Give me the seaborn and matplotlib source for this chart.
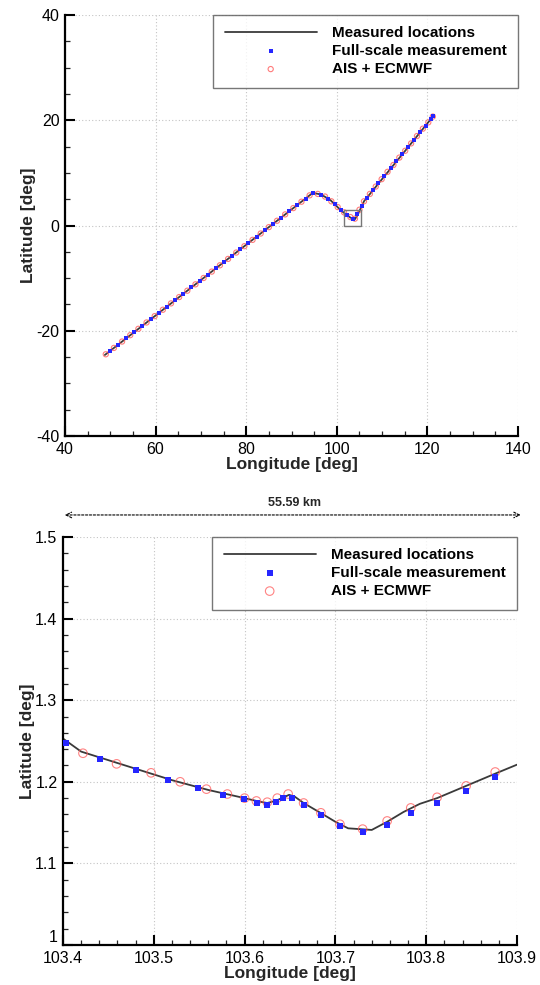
import matplotlib
matplotlib.use("Agg")
import matplotlib.pyplot as plt
from matplotlib.ticker import MultipleLocator, AutoMinorLocator, FormatStrFormatter
from matplotlib.patches import Rectangle
import seaborn as sns
import pandas as pd

# ---------------- data: overview route ----------------
route_lon = [48.8, 60.0, 75.0, 88.0, 94.7, 96.5, 98.5, 101.0, 103.0, 104.0, 104.6, 106.0, 109.5, 115.1, 121.3]
route_lat = [-24.6, -17.1, -7.0, 1.7, 6.2, 5.9, 4.9, 2.8, 1.5, 1.2, 2.0, 4.6, 8.3, 14.2, 20.8]

ais_lon = [49.0, 50.8, 52.6, 54.4, 56.2, 58.0, 59.8, 61.6, 63.4, 65.2, 67.0, 68.8, 70.6, 72.4,
           74.2, 76.0, 77.8, 79.6, 81.4, 83.2, 85.0, 86.8, 88.6, 90.4, 92.2, 94.0,
           95.8, 97.4, 98.8, 100.2, 101.6, 103.0, 104.0,
           105.0, 106.0, 107.3, 108.6, 109.9, 111.2, 112.5, 113.8, 115.1, 116.4, 117.7, 119.0, 120.2, 121.2]
ais_lat = [-24.47, -23.26, -22.05, -20.84, -19.63, -18.43, -17.22, -16.01, -14.80, -13.60, -12.39, -11.18, -9.97, -8.76,
           -7.56, -6.35, -5.14, -3.93, -2.73, -1.52, -0.31, 0.90, 2.11, 3.31, 4.52, 5.73,
           6.0, 5.5, 4.6, 3.5, 2.5, 1.6, 1.3,
           3.0, 4.6, 6.0, 7.4, 8.8, 10.2, 11.5, 12.9, 14.2, 15.6, 17.0, 18.4, 19.6, 20.7]

fs_lon = [49.9, 51.7, 53.5, 55.3, 57.1, 58.9, 60.7, 62.5, 64.3, 66.1, 67.9, 69.7, 71.5, 73.3,
          75.1, 76.9, 78.7, 80.5, 82.3, 84.1, 85.9, 87.7, 89.5, 91.3, 93.1, 94.7,
          96.6, 98.1, 99.5, 100.9, 102.3, 103.5,
          104.5, 105.5, 106.6, 108.0, 109.2, 110.5, 111.9, 113.1, 114.4, 115.7, 117.0, 118.3, 119.6, 120.7, 121.3]
fs_lat = [-23.86, -22.66, -21.45, -20.24, -19.03, -17.82, -16.61, -15.41, -14.20, -12.99, -11.78, -10.58, -9.37, -8.16,
          -6.95, -5.74, -4.54, -3.33, -2.12, -0.91, 0.30, 1.50, 2.71, 3.92, 5.12, 6.2,
          5.8, 5.1, 4.1, 3.0, 2.0, 1.3,
          2.1, 3.8, 5.3, 6.7, 8.1, 9.5, 10.9, 12.2, 13.5, 14.9, 16.3, 17.7, 19.0, 20.2, 20.8]

# zoom box drawn on overview (lon0, lat0, width, height)
zoom_box = (101.6, -0.1, 3.7, 3.0)

# ---------------- data: zoomed route ----------------
zroute_lon = [103.400, 103.420, 103.440, 103.460, 103.480, 103.500, 103.520, 103.540, 103.560, 103.580,
              103.600, 103.615, 103.625, 103.635, 103.649, 103.655, 103.665, 103.685, 103.700, 103.714,
              103.740, 103.757, 103.775, 103.793, 103.812, 103.844, 103.876, 103.900]
zroute_lat = [1.253, 1.237, 1.230, 1.223, 1.216, 1.209, 1.202, 1.196, 1.190, 1.185,
              1.180, 1.176, 1.174, 1.177, 1.184, 1.182, 1.174, 1.161, 1.151, 1.143,
              1.141, 1.151, 1.163, 1.173, 1.180, 1.195, 1.210, 1.221]

zais_lon = [103.422, 103.459, 103.497, 103.529, 103.558, 103.581, 103.600, 103.613, 103.625, 103.636,
            103.648, 103.665, 103.684, 103.705, 103.730, 103.757, 103.783, 103.812, 103.844, 103.876]
zais_lat = [1.235, 1.222, 1.211, 1.200, 1.191, 1.185, 1.180, 1.1765, 1.175, 1.180,
            1.185, 1.174, 1.162, 1.148, 1.142, 1.152, 1.168, 1.181, 1.195, 1.212]

zfs_lon = [103.403, 103.441, 103.480, 103.516, 103.549, 103.576, 103.599, 103.614, 103.625, 103.635,
           103.642, 103.652, 103.665, 103.684, 103.705, 103.730, 103.757, 103.783, 103.812, 103.844, 103.876]
zfs_lat = [1.248, 1.228, 1.2145, 1.2025, 1.1924, 1.1838, 1.179, 1.174, 1.172, 1.175,
           1.180, 1.180, 1.1716, 1.159, 1.146, 1.1385, 1.147, 1.162, 1.174, 1.189, 1.206]

distance_label = "55.59 km"
labels = ["Measured locations", "Full-scale measurement", "AIS + ECMWF"]

# ---------------- style ----------------
sns.set_style("white")
plt.rcParams['font.family'] = ['Liberation Sans', 'DejaVu Sans']
plt.rcParams['axes.unicode_minus'] = False

LINE_C = "#3a3a3a"
BLUE = "#2626ff"
RED = "#ff5a5a"

fig = plt.figure(figsize=(5.4, 9.85), dpi=100)
ax1 = fig.add_axes([65 / 540, 1 - 436 / 985, 453 / 540, 421 / 985])
ax2 = fig.add_axes([63 / 540, 1 - 945 / 985, 454 / 540, 408 / 985])


def style_axes(ax, xlim, ylim, xmaj, ymaj, xminor_n, yminor_n, fmt_x, fmt_y):
    ax.set_xlim(*xlim)
    ax.set_ylim(*ylim)
    ax.xaxis.set_major_locator(MultipleLocator(xmaj))
    ax.yaxis.set_major_locator(MultipleLocator(ymaj))
    ax.xaxis.set_minor_locator(AutoMinorLocator(xminor_n))
    ax.yaxis.set_minor_locator(AutoMinorLocator(yminor_n))
    ax.xaxis.set_major_formatter(FormatStrFormatter(fmt_x))
    ax.yaxis.set_major_formatter(FormatStrFormatter(fmt_y))
    for s in ["top", "right"]:
        ax.spines[s].set_visible(False)
    for s in ["left", "bottom"]:
        ax.spines[s].set_linewidth(1.6)
        ax.spines[s].set_color("black")
    ax.tick_params(which="major", direction="in", length=7, width=1.5, labelsize=11.5, pad=4,
                   colors="black", left=True, bottom=True)
    ax.tick_params(which="minor", direction="in", length=3.5, width=0.9, left=True, bottom=True)
    ax.grid(True, which="major", linestyle=(0, (1, 2)), color="#c4c4c4", linewidth=0.8)
    ax.set_axisbelow(True)
    ax.set_xlabel("Longitude [deg]", fontsize=12.5, fontweight="bold", labelpad=0)
    ax.set_ylabel("Latitude [deg]", fontsize=12.5, fontweight="bold", labelpad=0)


# ---------------- top panel ----------------
df_route = pd.DataFrame({"lon": route_lon, "lat": route_lat})
df_fs = pd.DataFrame({"lon": fs_lon, "lat": fs_lat})
df_ais = pd.DataFrame({"lon": ais_lon, "lat": ais_lat})

sns.lineplot(data=df_route, x="lon", y="lat", sort=False, estimator=None, color=LINE_C,
             linewidth=1.3, ax=ax1, label=labels[0])
sns.scatterplot(data=df_fs, x="lon", y="lat", marker="s", s=5, color=BLUE, linewidth=0,
                ax=ax1, label=labels[1], zorder=4)
sns.scatterplot(data=df_ais, x="lon", y="lat", marker="o", s=14, facecolor="none",
                edgecolor=RED, linewidth=0.8, alpha=0.8, ax=ax1, label=labels[2], zorder=3)
ax1.add_patch(Rectangle((zoom_box[0], zoom_box[1]), zoom_box[2], zoom_box[3],
                        fill=False, edgecolor="#777777", linewidth=1.0, zorder=5))
style_axes(ax1, (40, 140), (-40, 40), 20, 20, 4, 4, "%g", "%g")

# ---------------- bottom panel ----------------
df_zroute = pd.DataFrame({"lon": zroute_lon, "lat": zroute_lat})
df_zfs = pd.DataFrame({"lon": zfs_lon, "lat": zfs_lat})
df_zais = pd.DataFrame({"lon": zais_lon, "lat": zais_lat})

sns.lineplot(data=df_zroute, x="lon", y="lat", sort=False, estimator=None, color=LINE_C,
             linewidth=1.3, ax=ax2, label=labels[0])
sns.scatterplot(data=df_zfs, x="lon", y="lat", marker="s", s=14, color=BLUE, linewidth=0,
                ax=ax2, label=labels[1], zorder=4)
sns.scatterplot(data=df_zais, x="lon", y="lat", marker="o", s=38, facecolor="none",
                edgecolor=RED, linewidth=0.8, alpha=0.75, ax=ax2, label=labels[2], zorder=3)
style_axes(ax2, (103.4, 103.9), (1.0, 1.5), 0.1, 0.1, 5, 5, "%g", "%g")
# lift the "1" label a little, as in the reference
for lab in ax2.get_yticklabels():
    if lab.get_text() == "1":
        lab.set_va("bottom")

for ax in (ax1, ax2):
    leg = ax.legend(loc="upper right", borderaxespad=0, frameon=True, fancybox=False,
                    edgecolor="#555555", handlelength=6.0, handletextpad=1.0, labelspacing=0.25,
                    borderpad=0.75, prop={"weight": "bold", "size": 11}, markerscale=1.0)
    leg.get_frame().set_linewidth(1.0)
    for t in leg.get_texts():
        t.set_color("black")

# distance annotation above bottom panel
ax2.annotate("", xy=(1.008, 1.054), xytext=(0.004, 1.054), xycoords="axes fraction",
             textcoords="axes fraction",
             arrowprops=dict(arrowstyle="<->", linestyle=(0, (2, 1.5)), color="black",
                             linewidth=0.8, shrinkA=0, shrinkB=0))
ax2.text(0.51, 1.083, distance_label, transform=ax2.transAxes, ha="center", va="center",
         fontsize=9, fontweight="bold")

fig.savefig("out.png", dpi=100)
